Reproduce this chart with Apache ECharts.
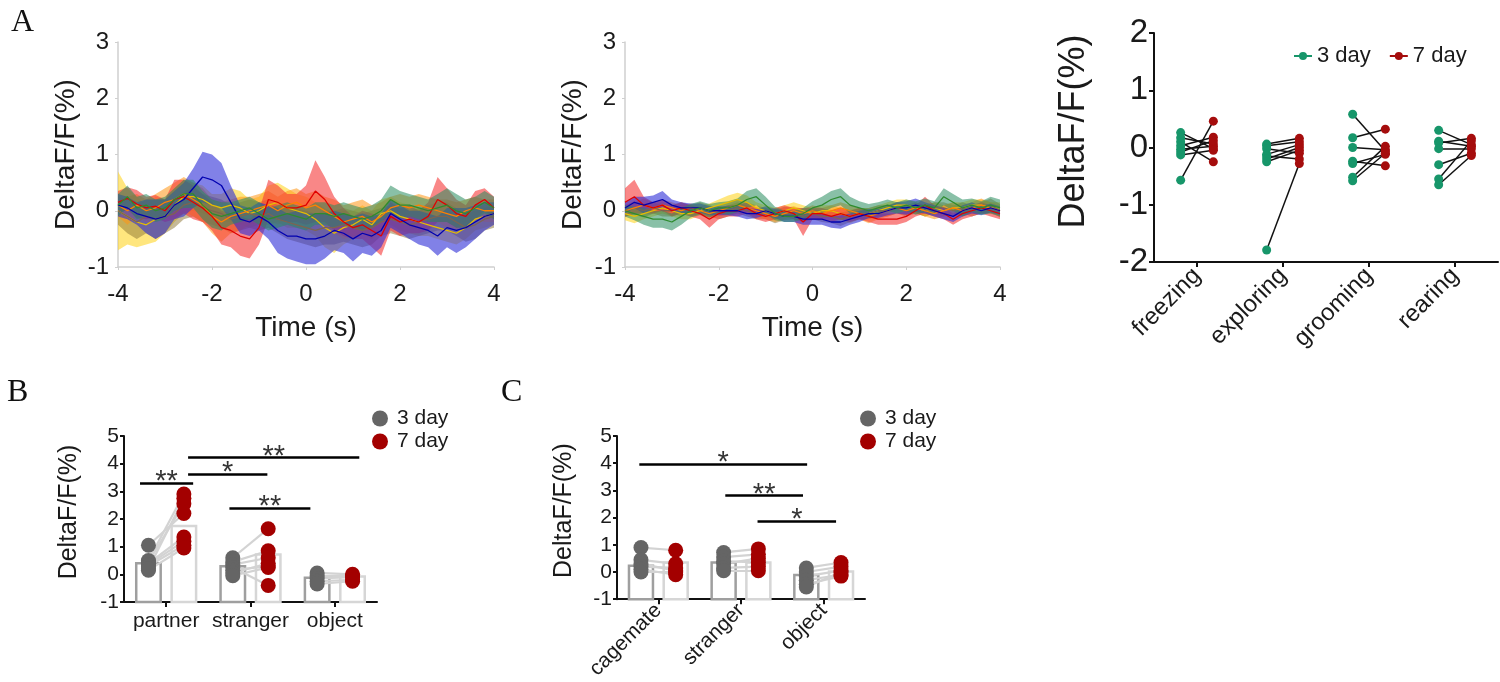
<!DOCTYPE html>
<html><head><meta charset="utf-8">
<script src="https://cdn.jsdelivr.net/npm/echarts@6/dist/echarts.min.js"></script>
<style>html,body{margin:0;padding:0;background:#fff}#c{width:1500px;height:682px}</style>
</head><body><div id="c"></div>
<script>
const SANS = '"Liberation Sans", Arial, sans-serif';
const SERIF = '"Liberation Serif", "Times New Roman", serif';

// ---------- Panel A (traces) ----------
const times = [-4,-3.8,-3.6,-3.4,-3.2,-3,-2.8,-2.6,-2.4,-2.2,-2,-1.8,-1.6,-1.4,-1.2,-1,-0.8,-0.6,-0.4,-0.2,0,0.2,0.4,0.6,0.8,1,1.2,1.4,1.6,1.8,2,2.2,2.4,2.6,2.8,3,3.2,3.4,3.6,3.8,4];
const timeTicks = [-4,-2,0,2,4];

const leftRedMean = [0.15,0.22,0.12,0.05,0.08,0.0,0.2,0.25,0.15,0.05, -0.1,-0.3,-0.35,-0.45,-0.5,-0.3,0.2,0.15,0.05,0.05, 0.1, 0.35,0.2,-0.05,-0.2,-0.3,-0.25,-0.35,-0.45,-0.1,-0.2, -0.15,-0.2,-0.1,0.2,0.1,-0.05,-0.1,0.1,0.2,0.05];
const leftRedSem = [0.2,0.2,0.25,0.2,0.2,0.2,0.35,0.3,0.3,0.25, 0.25,0.3,0.3,0.35,0.35,0.3,0.35,0.3,0.25,0.25, 0.35, 0.55,0.4,0.3,0.25,0.2,0.25,0.3,0.35,0.25,0.25, 0.25,0.2,0.25,0.4,0.3,0.25,0.2,0.25,0.2,0.2];
const leftBlueMean = [0.1,0.05,-0.05,-0.1,-0.15,-0.1,0.1,0.2,0.4,0.6, 0.55,0.45,0.15,-0.15,-0.2,-0.1,-0.2,-0.35,-0.45,-0.45, -0.5, -0.5,-0.45,-0.35,-0.4,-0.5,-0.4,-0.45,-0.35,-0.05,-0.15, -0.25,-0.3,-0.35,-0.45,-0.3,-0.35,-0.3,-0.2,-0.1,-0.05];
const leftBlueSem = [0.2,0.2,0.2,0.3,0.35,0.3,0.25,0.3,0.35,0.45, 0.45,0.4,0.3,0.25,0.25,0.25,0.3,0.4,0.4,0.45, 0.45, 0.45,0.4,0.35,0.35,0.4,0.35,0.35,0.3,0.25,0.25, 0.25,0.3,0.3,0.35,0.35,0.4,0.35,0.3,0.25,0.2];
const leftYellowMean = [0.0,-0.1,-0.2,-0.25,-0.15,-0.1,0.1,0.25,0.25,0.2, 0.1,0.05,0.1,0.05,-0.05,0.0,0.1,0.15,0.05,0.0, -0.05, -0.15,-0.3,-0.4,-0.3,-0.25,-0.15,-0.25,-0.05,0.0,-0.1, -0.15,-0.2,-0.25,-0.3,-0.35,-0.4,-0.3,-0.15,-0.1,-0.05];
const leftYellowSem = [0.7,0.5,0.45,0.35,0.4,0.3,0.3,0.3,0.25,0.25, 0.2,0.25,0.3,0.3,0.25,0.25,0.35,0.35,0.35,0.3, 0.3, 0.3,0.35,0.35,0.3,0.25,0.25,0.25,0.25,0.25,0.25, 0.25,0.25,0.2,0.2,0.2,0.2,0.2,0.2,0.2,0.2];
const leftOrangeMean = [0.1,0.0,0.1,0.0,0.05,0.15,0.2,0.3,0.2,0.1, -0.1,-0.2,-0.1,-0.05,0.0,0.05,0.1,0.0,0.1,0.15, 0.05, 0.1,0.0,-0.1,-0.2,-0.15,-0.1,-0.2,-0.1,0.05,0.1, 0.05,0.1,0.05,0.0,-0.05,-0.1,0.0,0.05,0.0,0.0];
const leftOrangeSem = [0.2,0.25,0.2,0.2,0.25,0.25,0.3,0.3,0.3,0.3, 0.3,0.35,0.3,0.3,0.25,0.25,0.25,0.25,0.25,0.25, 0.25, 0.25,0.25,0.3,0.3,0.3,0.3,0.3,0.25,0.2,0.2, 0.2,0.2,0.2,0.2,0.25,0.25,0.2,0.2,0.2,0.2];
const leftGreenMean = [0.1,0.25,0.05,0.1,0.0,0.05,0.2,0.3,0.3,0.1, -0.05,-0.1,-0.05,0.0,0.05,-0.05,-0.15,-0.1,-0.05,-0.1, -0.15, -0.05,-0.05,-0.1,-0.05,-0.1,-0.15,-0.1,0.0,0.2,0.1, 0.1,0.05,0.0,0.05,0.1,0.0,-0.05,0.05,0.15,0.05];
const leftGreenSem = [0.2,0.2,0.2,0.2,0.2,0.2,0.2,0.25,0.25,0.25, 0.25,0.25,0.2,0.2,0.2,0.2,0.2,0.2,0.2,0.2, 0.2, 0.2,0.2,0.2,0.2,0.2,0.2,0.2,0.2,0.25,0.25, 0.2,0.2,0.2,0.25,0.3,0.3,0.25,0.2,0.2,0.2];
const leftBrownMean = [0.0,-0.1,-0.2,-0.1,-0.15,-0.1,-0.05,0.1,0.15,0.05, 0.0,-0.05,-0.15,-0.1,-0.05,-0.1,-0.05,-0.15,-0.2,-0.25, -0.3, -0.35,-0.3,-0.3,-0.25,-0.3,-0.35,-0.3,-0.2,-0.15,-0.2, -0.25,-0.2,-0.15,-0.1,-0.1,-0.2,-0.3,-0.25,-0.15,-0.1];
const leftBrownSem = [0.25,0.3,0.3,0.3,0.35,0.3,0.25,0.25,0.25,0.25, 0.25,0.25,0.25,0.25,0.25,0.25,0.25,0.25,0.3,0.3, 0.3, 0.3,0.3,0.3,0.3,0.3,0.3,0.3,0.25,0.25,0.25, 0.25,0.25,0.25,0.25,0.25,0.25,0.25,0.25,0.2,0.2];

const midRedMean = [0.15,0.25,0.1,0.05,0.1,0.0,0.05,0.0,-0.05,-0.15, -0.05,0.0,0.0,0.05,-0.05,-0.1,-0.05,0.0,-0.05,-0.2, -0.05, -0.05,-0.1,-0.05,-0.1,-0.05,-0.1,-0.15,-0.15,-0.15,-0.1, 0.0,0.1,0.0,-0.05,-0.15,-0.05,0.0,0.05,0.0,-0.05];
const midRedSem = [0.25,0.3,0.15,0.1,0.1,0.1,0.1,0.1,0.1,0.15, 0.1,0.1,0.1,0.1,0.1,0.1,0.1,0.1,0.1,0.25, 0.1, 0.1,0.1,0.1,0.1,0.1,0.1,0.1,0.1,0.1,0.1, 0.1,0.15,0.1,0.1,0.1,0.1,0.1,0.1,0.1,0.1];
const midBlueMean = [0.05,0.15,0.1,0.15,0.2,0.1,0.05,0.05,0.05,0.0, 0.0,0.0,0.0,-0.05,-0.05,0.0,-0.05,-0.1,-0.1,-0.15, -0.15, -0.15,-0.2,-0.2,-0.15,-0.1,-0.05,-0.05,0.0,0.05,0.05, 0.1,0.05,0.0,-0.05,-0.1,0.0,0.05,0.0,0.05,0.0];
const midBlueSem = [0.1,0.1,0.15,0.12,0.15,0.1,0.1,0.08,0.08,0.08, 0.08,0.08,0.1,0.1,0.08,0.08,0.08,0.1,0.1,0.1, 0.1, 0.1,0.1,0.12,0.1,0.1,0.08,0.08,0.08,0.1,0.12, 0.12,0.1,0.1,0.1,0.1,0.1,0.1,0.08,0.08,0.08];
const midYellowMean = [-0.05,-0.1,-0.05,0.0,0.05,0.0,-0.05,-0.05,0.0,0.05, 0.1,0.15,0.2,0.15,0.05,0.0,-0.05,0.0,0.05,0.0, -0.05, 0.0,0.0,-0.05,-0.1,-0.05,-0.05,0.0,0.05,0.1,0.1, 0.05,0.0,0.05,0.0,0.05,0.05,0.1,0.1,0.05,0.05];
const midYellowSem = [0.12,0.12,0.1,0.1,0.1,0.1,0.1,0.1,0.08,0.08, 0.1,0.12,0.12,0.12,0.1,0.1,0.1,0.1,0.1,0.1, 0.1, 0.1,0.1,0.1,0.12,0.1,0.1,0.1,0.1,0.1,0.1, 0.1,0.1,0.1,0.1,0.1,0.1,0.1,0.1,0.1,0.1];
const midOrangeMean = [0.0,0.05,0.1,0.05,0.1,0.05,0.0,0.05,0.0,-0.05, 0.0,0.05,0.1,0.05,0.0,-0.05,-0.1,-0.05,0.0,-0.05, 0.0, -0.05,0.0,0.05,0.0,-0.05,-0.1,-0.05,0.0,0.05,0.0, 0.05,0.0,-0.05,0.0,0.05,0.0,0.05,0.1,0.05,0.0];
const midOrangeSem = [0.1,0.1,0.12,0.1,0.1,0.1,0.1,0.08,0.08,0.1, 0.1,0.1,0.1,0.1,0.1,0.1,0.1,0.1,0.08,0.08, 0.1, 0.1,0.1,0.1,0.1,0.1,0.12,0.1,0.1,0.1,0.08, 0.08,0.1,0.1,0.1,0.1,0.1,0.1,0.12,0.1,0.1];
const midGreenMean = [0.0,-0.05,-0.1,-0.15,-0.15,-0.2,-0.1,0.0,0.05,0.0, 0.05,0.05,0.1,0.2,0.25,0.1,-0.05,-0.1,-0.1,-0.05, 0.05, 0.1,0.2,0.25,0.1,0.05,0.0,0.05,0.1,0.05,0.1, 0.05,0.1,0.05,0.25,0.15,0.05,0.1,0.05,0.1,0.05];
const midGreenSem = [0.1,0.12,0.15,0.15,0.15,0.15,0.15,0.12,0.12,0.12, 0.1,0.12,0.12,0.15,0.15,0.15,0.12,0.1,0.1,0.1, 0.12, 0.15,0.15,0.15,0.15,0.12,0.12,0.1,0.1,0.1,0.1, 0.12,0.12,0.12,0.15,0.15,0.15,0.12,0.12,0.15,0.15];
const midBrownMean = [0.0,0.05,0.0,0.05,0.0,0.0,0.05,0.0,0.05,0.0, -0.05,0.0,0.05,0.0,-0.05,-0.05,-0.1,-0.05,-0.05,-0.1, -0.05, -0.1,-0.1,-0.15,-0.1,-0.05,-0.05,0.0,0.0,0.05,0.0, 0.05,0.0,0.05,0.05,0.0,0.05,0.0,0.05,0.1,0.0];
const midBrownSem = [0.1,0.12,0.12,0.1,0.1,0.1,0.1,0.1,0.1,0.1, 0.1,0.1,0.1,0.1,0.1,0.1,0.12,0.12,0.1,0.1, 0.1, 0.1,0.12,0.12,0.1,0.1,0.1,0.1,0.1,0.1,0.1, 0.1,0.1,0.1,0.1,0.1,0.1,0.1,0.1,0.12,0.12];

// ---------- Panel A right (behaviours) ----------
const behaviours = ['freezing','exploring','grooming','rearing'];
const freezing3 = [0.26,0.17,0.1,0.03,-0.03,-0.08,-0.13,-0.57];
const freezing7 = [-0.02,0.06,-0.25,0.18,0.02,0.12,-0.05,0.46];
const exploring3 = [0.06,0.03,-0.02,-0.12,-0.15,-0.2,-0.25,-1.79];
const exploring7 = [0.16,0.1,-0.1,0.05,-0.2,0.0,-0.05,-0.28];
const grooming3 = [0.58,0.17,0.0,-0.24,-0.28,-0.52,-0.58];
const grooming7 = [-0.06,0.32,-0.04,-0.32,-0.12,0.02,-0.1];
const rearing3 = [0.3,0.11,0.08,-0.02,-0.3,-0.55,-0.65];
const rearing7 = [0.05,0.02,0.16,-0.02,-0.1,0.12,-0.14];

// ---------- Panel B ----------
const catsB = ['partner','stranger','object'];
const barB3 = [0.4,0.29,-0.12];
const barB7 = [1.75,0.72,-0.08];
const partnerB3 = [1.05,0.5,0.45,0.4,0.35,0.3,0.2,0.15];
const partnerB7 = [2.2,2.9,2.55,1.35,1.2,1.05,2.75,0.95];
const strangerB3 = [0.6,0.45,0.35,0.25,0.15,0.05,-0.05];
const strangerB7 = [1.65,0.85,0.6,-0.4,0.3,0.4,0.25];
const objectB3 = [0.05,-0.05,-0.15,-0.25,-0.35];
const objectB7 = [0.0,-0.05,-0.1,-0.2,-0.25];
// [from, to, level, stars] in group units
const sigB = [[0.19,0.82,3.29,'**'],[0.76,1.70,3.61,'*'],[0.76,2.79,4.22,'**'],[1.25,2.21,2.38,'**']];

// ---------- Panel C ----------
const catsC = ['cagemate','stranger','object'];
const barC3 = [0.23,0.35,-0.11];
const barC7 = [0.35,0.35,0.02];
const cagemateC3 = [0.9,0.45,0.3,0.2,0.1,0.0];
const cagemateC7 = [0.8,0.3,0.05,0.15,-0.1,0.0];
const strangerC3 = [0.72,0.55,0.4,0.3,0.15,0.05];
const strangerC7 = [0.85,0.65,0.35,0.5,0.2,0.05];
const objectC3 = [0.15,0.0,-0.15,-0.3,-0.45,-0.55];
const objectC7 = [0.35,0.2,0.05,-0.1,-0.15,0.0];
const sigC = [[0.27,2.30,3.98,'*'],[1.31,2.25,2.81,'**'],[1.70,2.65,1.86,'*']];

const legendNames = {a3:'3 day', a7:'7 day', b3:'3 day', b7:'7 day', c3:'3 day', c7:'7 day'};

// ---------- builders ----------
const series = [];
function addTrace(id, mean, sem, band, line, ax) {
  series.push({type:'custom', name:id+'band', xAxisIndex:ax, yAxisIndex:ax, silent:true, z:2,
    data:[[times[0], mean[0]]],
    renderItem: function(params, api){
      const pts = [];
      for (let k=0;k<times.length;k++) pts.push(api.coord([times[k], mean[k]+sem[k]]));
      for (let k=times.length-1;k>=0;k--) pts.push(api.coord([times[k], mean[k]-sem[k]]));
      return {type:'polygon', shape:{points:pts}, style:{fill:band}};
    }});
  series.push({type:'line', name:id+'mean', xAxisIndex:ax, yAxisIndex:ax,
    data: times.map((t,k)=>[t, mean[k]]), symbol:'none', lineStyle:{color:line, width:1.3}, silent:true, z:3});
}
const traceStyles = {
  yellow:['rgba(255,214,40,0.6)','#e6bd00'],
  brown:['rgba(140,115,50,0.5)','#7d6450'],
  orange:['rgba(255,150,20,0.55)','#ff7f00'],
  red:['rgba(245,55,55,0.6)','#e00000'],
  blue:['rgba(45,45,215,0.6)','#0000b0'],
  green:['rgba(40,140,95,0.55)','#2e8b2e']
};
const leftSet = {yellow:[leftYellowMean,leftYellowSem], brown:[leftBrownMean,leftBrownSem], orange:[leftOrangeMean,leftOrangeSem], red:[leftRedMean,leftRedSem], blue:[leftBlueMean,leftBlueSem], green:[leftGreenMean,leftGreenSem]};
const midSet = {yellow:[midYellowMean,midYellowSem], brown:[midBrownMean,midBrownSem], orange:[midOrangeMean,midOrangeSem], red:[midRedMean,midRedSem], blue:[midBlueMean,midBlueSem], green:[midGreenMean,midGreenSem]};
Object.keys(traceStyles).forEach(k=>{
  addTrace('L'+k, leftSet[k][0], leftSet[k][1], traceStyles[k][0], traceStyles[k][1], 0);
  addTrace('M'+k, midSet[k][0], midSet[k][1], traceStyles[k][0], traceStyles[k][1], 1);
});

function pairLines(groups3, groups7, off) {
  const out = [];
  groups3.forEach((g3,i)=>{ g3.forEach((v,j)=>{ out.push({coords:[[i+0.5-off, v],[i+0.5+off, groups7[i][j]]]}); }); });
  return out;
}
function pts(groups, off) {
  const out = [];
  groups.forEach((g,i)=>g.forEach(v=>out.push([i+0.5+off, v])));
  return out;
}

// Panel A right
const aG3 = [freezing3, exploring3, grooming3, rearing3];
const aG7 = [freezing7, exploring7, grooming7, rearing7];
const aOff = 0.19;
series.push({type:'lines', coordinateSystem:'cartesian2d', xAxisIndex:3, yAxisIndex:2, silent:true,
  data: pairLines(aG3, aG7, aOff), lineStyle:{color:'#111', width:1.5, opacity:1}, z:3});
series.push({type:'line', name:'a3', xAxisIndex:3, yAxisIndex:2, data: pts(aG3, -aOff), symbol:'circle', symbolSize:9,
  itemStyle:{color:'#17966a'}, lineStyle:{color:'#17966a', opacity:0, width:2}, z:5});
series.push({type:'line', name:'a7', xAxisIndex:3, yAxisIndex:2, data: pts(aG7, aOff), symbol:'circle', symbolSize:9,
  itemStyle:{color:'#a50d0d'}, lineStyle:{color:'#a50d0d', opacity:0, width:2}, z:5});

// Panels B and C
function addBarPanel(bar3, bar7, g3, g7, sig, xv, yi, name3, name7) {
  const off = 0.21, hw = 0.145;
  function barSeries(vals, sign, stroke) {
    return {type:'custom', xAxisIndex:xv, yAxisIndex:yi, silent:true, z:2,
      data: vals.map((v,i)=>[i+0.5+sign*off, v]),
      renderItem: function(params, api){
        const x = api.value(0), v = api.value(1);
        const a = api.coord([x-hw, v]), b = api.coord([x+hw, -1]);
        return {type:'rect', shape:{x:a[0], y:a[1], width:b[0]-a[0], height:b[1]-a[1]},
          style:{fill:'#ffffff', stroke:stroke, lineWidth:2.5}};
      }};
  }
  series.push(barSeries(bar3, -1, '#9f9f9f'));
  series.push(barSeries(bar7, 1, '#d6d6d6'));
  series.push({type:'lines', coordinateSystem:'cartesian2d', xAxisIndex:xv, yAxisIndex:yi, silent:true, z:3,
    data: pairLines(g3, g7, off), lineStyle:{color:'#d3d3d3', width:2.2, opacity:1}});
  series.push({type:'scatter', name:name3, xAxisIndex:xv, yAxisIndex:yi, data: pts(g3, -off), symbolSize:15,
    itemStyle:{color:'#656565', opacity:1}, z:4});
  series.push({type:'scatter', name:name7, xAxisIndex:xv, yAxisIndex:yi, data: pts(g7, off), symbolSize:15,
    itemStyle:{color:'#a30000', opacity:1}, z:4});
  series.push({type:'lines', coordinateSystem:'cartesian2d', xAxisIndex:xv, yAxisIndex:yi, silent:true, z:5,
    data: sig.map(s=>({coords:[[s[0], s[2]],[s[1], s[2]]]})), lineStyle:{color:'#000', width:2.5, opacity:1}});
  series.push({type:'scatter', xAxisIndex:xv, yAxisIndex:yi, silent:true, z:6, symbolSize:0,
    data: sig.map(s=>[(s[0]+s[1])/2, s[2], s[3]]),
    label:{show:true, position:'inside', formatter:p=>p.data[2], color:'#000', fontSize:29, fontFamily:SANS, offset:[0,-1]}});
}
addBarPanel(barB3, barB7, [partnerB3, strangerB3, objectB3], [partnerB7, strangerB7, objectB7], sigB, 5, 3, 'b3', 'b7');
addBarPanel(barC3, barC7, [cagemateC3, strangerC3, objectC3], [cagemateC7, strangerC7, objectC7], sigC, 7, 4, 'c3', 'c7');

// ---------- axes ----------
function timeAxis(gi) {
  return {type:'value', gridIndex:gi, min:timeTicks[0], max:timeTicks[timeTicks.length-1], interval:2,
    name:'Time (s)', nameLocation:'middle', nameGap:47, nameTextStyle:{fontSize:28, color:'#1a1a1a', fontFamily:SANS},
    axisLine:{show:true, onZero:false, lineStyle:{color:'#cfcfcf', width:1.5}},
    axisTick:{show:true, length:3, lineStyle:{color:'#cfcfcf'}}, splitLine:{show:false},
    axisLabel:{fontSize:24, color:'#1a1a1a', fontFamily:SANS, margin:15}};
}
function traceY(gi) {
  return {type:'value', gridIndex:gi, min:-1, max:3, interval:1,
    name:'DeltaF/F(%)', nameLocation:'middle', nameGap:38, nameTextStyle:{fontSize:28, color:'#1a1a1a', fontFamily:SANS},
    axisLine:{show:true, onZero:false, lineStyle:{color:'#cfcfcf', width:1.5}}, axisTick:{show:true, length:3, lineStyle:{color:'#cfcfcf'}},
    splitLine:{show:false}, axisLabel:{fontSize:24, color:'#1a1a1a', fontFamily:SANS, margin:9}};
}
const blackLine = {show:true, onZero:false, lineStyle:{color:'#111', width:2}};
function catAxis(gi, data, fs, rotate, margin) {
  return {type:'category', gridIndex:gi, data:data, boundaryGap:true,
    axisLine:blackLine, axisTick:{show:true, alignWithLabel:true, length:5, lineStyle:{color:'#111', width:2}},
    axisLabel:{fontSize:fs, color:'#1a1a1a', fontFamily:SANS, rotate:rotate, margin:margin, interval:0}, splitLine:{show:false}};
}
function hiddenX(gi, n) { return {type:'value', gridIndex:gi, min:0, max:n, show:false, splitLine:{show:false}, axisLine:{onZero:false}}; }
function barY(gi, gap, pad) {
  return {type:'value', gridIndex:gi, min:-1, max:5, interval:1,
    name:'DeltaF/F(%)', nameLocation:'middle', nameGap:gap, nameTextStyle:{fontSize:25, color:'#1a1a1a', fontFamily:SANS, padding:[0,0,0,pad]},
    axisLine:blackLine, axisTick:{show:true, length:4, lineStyle:{color:'#111', width:2}}, splitLine:{show:false},
    axisLabel:{fontSize:21, color:'#1a1a1a', fontFamily:SANS, margin:5}};
}

const option = {
  backgroundColor:'#ffffff',
  animation:false,
  title:[
    {text:'A', left:6, top:2, textStyle:{fontFamily:SERIF, fontSize:32, fontWeight:'normal', color:'#111'}},
    {text:'B', left:2, top:372, textStyle:{fontFamily:SERIF, fontSize:32, fontWeight:'normal', color:'#111'}},
    {text:'C', left:496, top:372, textStyle:{fontFamily:SERIF, fontSize:32, fontWeight:'normal', color:'#111'}}
  ],
  legend:[
    {data:['a3','a7'], left:1288, top:40, orient:'horizontal', itemGap:18, itemWidth:18, itemHeight:10,
      formatter:n=>legendNames[n], textStyle:{fontSize:22, color:'#1a1a1a', fontFamily:SANS},
      lineStyle:{opacity:1, width:2}},
    {data:['b3','b7'], left:367, top:403, orient:'vertical', itemGap:2, icon:'circle', itemWidth:16, itemHeight:16,
      formatter:n=>legendNames[n], textStyle:{fontSize:21, color:'#1a1a1a', fontFamily:SANS, padding:[0,0,0,4]}},
    {data:['c3','c7'], left:855, top:403, orient:'vertical', itemGap:2, icon:'circle', itemWidth:16, itemHeight:16,
      formatter:n=>legendNames[n], textStyle:{fontSize:21, color:'#1a1a1a', fontFamily:SANS, padding:[0,0,0,4]}}
  ],
  grid:[
    {left:118, top:42, width:376, height:225},
    {left:625, top:42, width:375, height:225},
    {left:1154, top:33, width:344, height:229},
    {left:124, top:436, width:253, height:166},
    {left:617, top:436, width:248, height:164}
  ],
  xAxis:[
    timeAxis(0), timeAxis(1),
    catAxis(2, behaviours, 24, 45, 10), hiddenX(2, 4),
    catAxis(3, catsB, 21, 0, 9), hiddenX(3, 3),
    catAxis(4, catsC, 21, 45, 8), hiddenX(4, 3)
  ],
  yAxis:[
    traceY(0), traceY(1),
    {type:'value', gridIndex:2, min:-2, max:2, interval:1,
      name:'DeltaF/F(%)', nameLocation:'middle', nameGap:62, nameTextStyle:{fontSize:36, color:'#1a1a1a', fontFamily:SANS, padding:[0,0,0,32]},
      axisLine:blackLine, axisTick:{show:true, length:5, lineStyle:{color:'#111', width:2}}, splitLine:{show:false},
      axisLabel:{fontSize:33, color:'#1a1a1a', fontFamily:SANS, margin:6}},
    barY(3, 42, 14), barY(4, 40, 14)
  ],
  series: series
};
const chart = echarts.init(document.getElementById('c'), null, {renderer:'canvas'});
chart.setOption(option);
</script></body></html>
